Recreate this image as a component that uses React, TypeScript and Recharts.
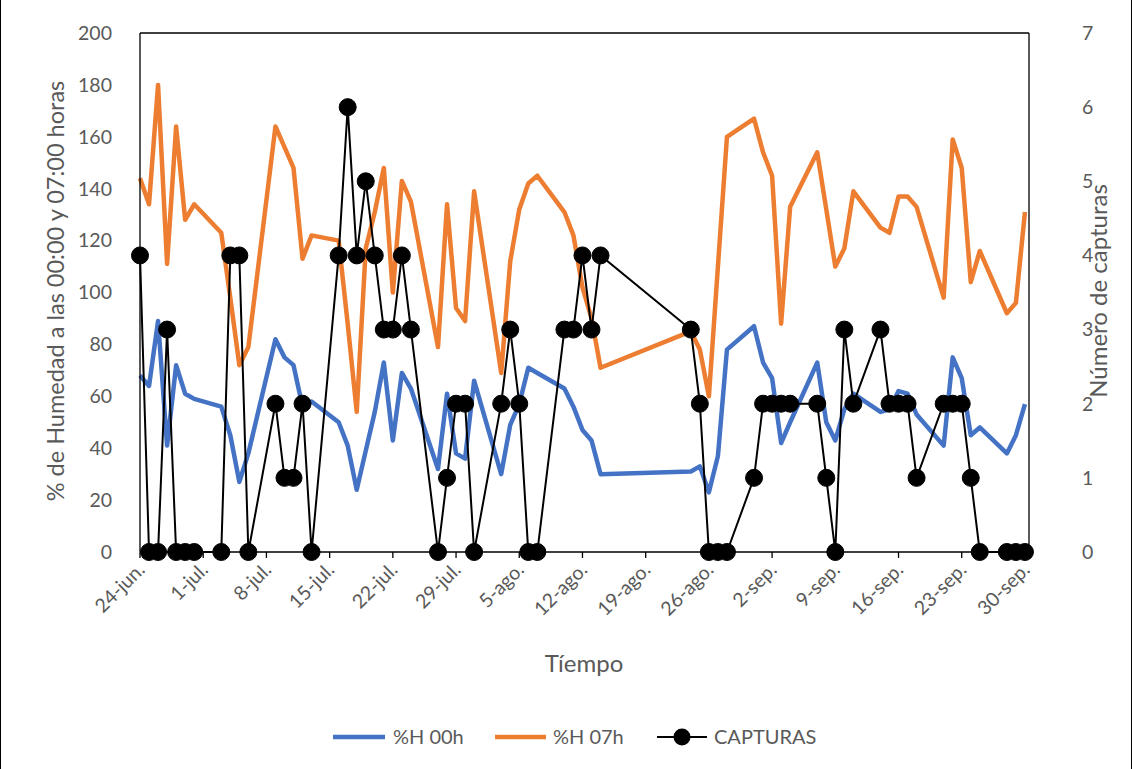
import React from 'react';
import { LineChart, Line, XAxis, YAxis, Legend, ReferenceLine, Label } from 'recharts';

// day offset from 24-jun.
const days = [0,1,2,3,4,5,6,9,10,11,12,15,16,17,18,19,22,23,24,25,26,27,28,29,30,33,34,35,36,37,40,41,42,43,44,47,48,49,50,51,61,62,63,64,65,68,69,70,71,72,75,76,77,78,79,82,83,84,85,86,89,90,91,92,93,96,97,98];

const h00 = [68,64,89,41,72,61,59, 56,45,27,38, 82,75,72,56,58, 50,41,24,39,54,73,43,69,63, 32,61,38,36,66, 30,49,57,71,69, 63,56,47,43,30, 31,33,23,37,78, 87,73,67,42,50, 73,50,43,55,61, 54,55,62,61,53, 41,75,67,45,48, 38,45,57];

const h07 = [144,134,180,111,164,128,134, 123,98,72,79, 164,156,148,113,122, 120,88,54,117,131,148,100,143,135, 79,134,94,89,139, 69,112,132,142,145, 131,122,102,90,71, 85,78,60,110,160, 167,154,145,88,133, 154,132,110,117,139, 125,123,137,137,133, 98,159,148,104,116, 92,96,131];

const capturas = [4,0,0,3,0,0,0, 0,4,4,0, 2,1,1,2,0, 4,6,4,5,4,3,3,4,3, 0,1,2,2,0, 2,3,2,0,0, 3,3,4,3,4, 3,2,0,0,0, 1,2,2,2,2, 2,1,0,3,2, 3,2,2,2,1, 2,2,2,1,0, 0,0,0];

const tickDays = [0,7,14,21,28,35,42,49,56,63,70,77,84,91,98];
const tickLabels = ['24-jun.','1-jul.','8-jul.','15-jul.','22-jul.','29-jul.','5-ago.','12-ago.','19-ago.','26-ago.','2-sep.','9-sep.','16-sep.','23-sep.','30-sep.'];
const leftTicks = [0,20,40,60,80,100,120,140,160,180,200];
const rightTicks = [0,1,2,3,4,5,6,7];

const data = days.map((d, i) => ({ day: d, h00: h00[i], h07: h07[i], cap: capturas[i] }));

const FONT = 'Lato, "Open Sans", sans-serif';
const GREY = '#595959';

const XTick = (props: any) => {
  const { x, y, payload } = props;
  const idx = tickDays.indexOf(payload.value);
  const ax = x + 6;
  const ay = y + 11;
  return (
    <text x={ax} y={ay} transform={`rotate(-45 ${ax} ${ay})`} textAnchor="end" fill={GREY} fontSize={19.5} fontFamily={FONT}>
      {idx >= 0 ? tickLabels[idx] : ''}
    </text>
  );
};

const LeftTick = (props: any) => {
  const { x, y, payload } = props;
  return (
    <text x={x - 26} y={y} dy="0.35em" textAnchor="end" fill={GREY} fontSize={19.5} fontFamily={FONT}>{payload.value}</text>
  );
};

const RightTick = (props: any) => {
  const { x, y, payload } = props;
  return (
    <text x={x + 51} y={y} dy="0.35em" textAnchor="start" fill={GREY} fontSize={19.5} fontFamily={FONT}>{payload.value}</text>
  );
};

const renderLegend = () => (
  <svg width={1132} height={40} style={{ display: 'block' }}>
    <line x1={333} y1={20} x2={385} y2={20} stroke="#4472C4" strokeWidth={4.5} />
    <text x={393} y={20} dy="0.35em" fill={GREY} fontSize={20} fontFamily={FONT}>%H 00h</text>
    <line x1={495} y1={20} x2={546} y2={20} stroke="#ED7D31" strokeWidth={4.5} />
    <text x={553} y={20} dy="0.35em" fill={GREY} fontSize={20} fontFamily={FONT}>%H 07h</text>
    <line x1={657} y1={20} x2={707} y2={20} stroke="#000" strokeWidth={2} />
    <circle cx={682} cy={20} r={8.5} fill="#000" />
    <text x={714} y={20} dy="0.35em" fill={GREY} fontSize={20} fontFamily={FONT}>CAPTURAS</text>
  </svg>
);

export default function App() {
  return (
    <div style={{ position: 'absolute', left: 0, top: 0, width: 1132, height: 769, background: '#fff', boxSizing: 'border-box', borderLeft: '1px solid #000', borderRight: '1px solid #000' }}>
      <LineChart width={1130} height={769} data={data} margin={{ top: 33, right: 0, bottom: 0, left: 0 }} style={{ position: 'absolute', left: -1, top: 0 }}>
        <XAxis
          dataKey="day"
          type="number"
          domain={[0, 98.45]}
          ticks={tickDays}
          interval={0}
          height={217}
          tick={<XTick />}
          tickSize={6}
          tickLine={{ stroke: '#000', strokeWidth: 1.3 }}
          axisLine={{ stroke: '#000', strokeWidth: 1.3 }}
        >
          <Label content={() => (
            <text x={584} y={664} dy="0.35em" textAnchor="middle" fill={GREY} fontSize={24} fontFamily={FONT}>Tíempo</text>
          )} />
        </XAxis>
        <YAxis
          yAxisId="left"
          orientation="left"
          width={140}
          domain={[0, 200]}
          ticks={leftTicks}
          interval={0}
          tick={<LeftTick />}
          tickLine={false}
          tickSize={0}
          axisLine={{ stroke: '#000', strokeWidth: 1.3 }}
        >
          <Label content={() => (
            <text x={56} y={291} dy="0.35em" transform="rotate(-90 56 291)" textAnchor="middle" fill={GREY} fontSize={23.5} fontFamily={FONT}>% de Humedad a las 00:00 y 07:00 horas</text>
          )} />
        </YAxis>
        <YAxis
          yAxisId="right"
          orientation="right"
          width={101}
          domain={[0, 7]}
          ticks={rightTicks}
          interval={0}
          tick={<RightTick />}
          tickLine={false}
          tickSize={0}
          axisLine={{ stroke: '#000', strokeWidth: 1.3 }}
        >
          <Label content={() => (
            <text x={1099} y={291} dy="0.35em" transform="rotate(-90 1099 291)" textAnchor="middle" fill={GREY} fontSize={24} fontFamily={FONT}>Número de capturas</text>
          )} />
        </YAxis>
        <ReferenceLine yAxisId="left" y={200} stroke="#000" strokeWidth={1.3} />
        <Legend
          layout="horizontal"
          verticalAlign="middle"
          align="center"
          content={renderLegend}
          wrapperStyle={{ top: 717, left: 0, width: 1132, height: 40 }}
        />
        <Line yAxisId="left" dataKey="h00" name="%H 00h" stroke="#4472C4" strokeWidth={4.5} dot={false} isAnimationActive={false} strokeLinejoin="round" />
        <Line yAxisId="left" dataKey="h07" name="%H 07h" stroke="#ED7D31" strokeWidth={4.5} dot={false} isAnimationActive={false} strokeLinejoin="round" />
        <Line yAxisId="right" dataKey="cap" name="CAPTURAS" stroke="#000" strokeWidth={2} dot={{ r: 8.5, fill: '#000', stroke: '#000', strokeWidth: 1 }} isAnimationActive={false} />
      </LineChart>
    </div>
  );
}
